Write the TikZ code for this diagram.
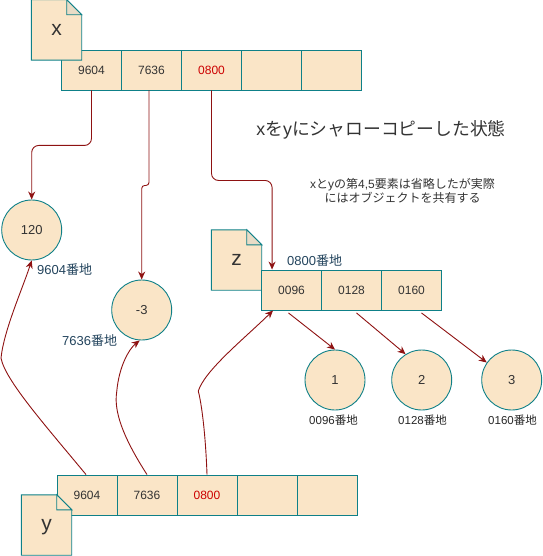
\documentclass[tikz,border=0pt]{standalone}
\usepackage{fontspec}
\setmainfont{Liberation Sans}
\newfontfamily\cjk{Noto Sans CJK JP}
\usetikzlibrary{arrows.meta}
\definecolor{teal0}{HTML}{0E8088}
\definecolor{cellfill}{HTML}{FAE5C7}
\definecolor{foldfill}{HTML}{E8DCC6}
\definecolor{conncol}{HTML}{8E1212}
\definecolor{txt}{HTML}{333333}
\definecolor{addr}{HTML}{23445D}
\definecolor{redtxt}{HTML}{CC0000}
\tikzset{
  cell/.style={draw=teal0, fill=cellfill, line width=0.9pt, minimum width=60pt, minimum height=40pt, inner sep=0pt, text=txt, font=\fontsize{12}{14}\selectfont},
  circ/.style={circle, draw=teal0, fill=cellfill, line width=0.9pt, minimum size=60pt, inner sep=0pt, text=txt, font=\fontsize{13}{15}\selectfont},
  filebox/.style={minimum width=50pt, minimum height=60pt, inner sep=0pt, text=txt, font=\fontsize{21}{24}\selectfont},
  fileline/.style={draw=teal0, fill=cellfill, line width=0.9pt},
  addrlab/.style={text=addr, inner sep=0pt, font=\fontsize{13}{15}\selectfont},
  smalllab/.style={text=black!85, inner sep=0pt, font=\fontsize{11.5}{13}\selectfont},
  conn/.style={draw=conncol, line width=0.9pt, -{Stealth[length=8pt,width=7pt]}},
}
\newcommand{\filedraw}[2]{%
  \path[fileline] (#1.north west) -- ([xshift=-15pt]#1.north east) -- ([yshift=-15pt]#1.north east) -- (#1.south east) -- (#1.south west) -- cycle;
  \path[draw=teal0, fill=#2, line width=0.9pt] ([xshift=-15pt]#1.north east) -- ([xshift=-15pt,yshift=-15pt]#1.north east) -- ([yshift=-15pt]#1.north east) -- cycle;
}
\begin{document}
\begin{tikzpicture}[x=1pt,y=-1pt]
\useasboundingbox (0,0) rectangle (542,556);

% x array
\node[cell] (x1) at (91.5,70) {9604};
\node[cell] (x2) at (151.5,70) {7636};
\node[cell, text=redtxt] (x3) at (211.5,70) {0800};
\node[cell] (x4) at (271.5,70) {};
\node[cell] (x5) at (331.5,70) {};
\node[filebox] (fx) at (56.5,30) {};
\filedraw{fx}{foldfill}
\node[filebox] at (fx) {x};

% z
\node[filebox] (fz) at (236.5,260) {};
\filedraw{fz}{foldfill}
\node[filebox] at (fz) {z};
\node[cell] (z1) at (291.5,290) {0096};
\node[cell] (z2) at (351.5,290) {0128};
\node[cell] (z3) at (411.5,290) {0160};

% y array
\node[cell] (y1) at (87,495) {9604};
\node[cell] (y2) at (147,495) {7636};
\node[cell, text=redtxt] (y3) at (207,495) {0800};
\node[cell] (y4) at (267,495) {};
\node[cell] (y5) at (327,495) {};
\node[filebox] (fy) at (46.5,525) {};
\filedraw{fy}{cellfill}
\node[filebox, yshift=-2pt] at (fy) {y};

% circles
\node[circ] (c120) at (31.7,230) {120};
\node[circ] (cm3) at (141.7,310) {-3};
\node[circ] (c1) at (335,380) {1};
\node[circ] (c2) at (421.7,380) {2};
\node[circ] (c3) at (511.7,380) {3};

% labels
\node[addrlab, anchor=west] (l9604) at (37,270) {9604{\cjk 番地}};
\node[addrlab, anchor=west] (l7636) at (62,341) {7636{\cjk 番地}};
\node[addrlab, anchor=west] (l0800) at (287,261) {0800{\cjk 番地}};
\node[smalllab] (l0096) at (333.5,420) {0096{\cjk 番地}};
\node[smalllab] (l0128) at (422.5,420) {0128{\cjk 番地}};
\node[smalllab] (l0160) at (512.5,420) {0160{\cjk 番地}};

\node[text=txt, inner sep=0pt, font=\fontsize{17.8}{20}\selectfont] (title) at (381,130) {x{\cjk を}y{\cjk にシャローコピーした状態}};
\node[text=txt, inner sep=0pt, align=center, font=\fontsize{12}{14}\selectfont] (note) at (402.5,191) {x{\cjk と}y{\cjk の第}4,5{\cjk 要素は省略したが実際}\\{\cjk にはオブジェクトを共有する}};

% connectors from x
\draw[conn, rounded corners=7pt] (x1.south) -- ++(0,55) -| (c120.north);
\draw[conn, rounded corners=3pt] ([xshift=-2.5pt]x2.south) -- ++(0,95) -| (cm3.north);
\draw[conn, rounded corners=7pt] (x3.south) -- ++(0,90) -| ([xshift=11pt]z1.north west);

% connectors from y
\draw[conn] ([xshift=-1pt]y1.north) .. controls (45,425) and (5,380) .. (1,358) .. controls (4,330) and (22,290) .. (c120.south);
\draw[conn] (y2.north) .. controls (128,445) and (113,415) .. (116.7,392) .. controls (119,365) and (130,348) .. ([xshift=-2pt]cm3.south);
\draw[conn] (y3.north) .. controls (206,445) and (203,410) .. (198.3,391) .. controls (205,370) and (245,338) .. ([xshift=12pt]z1.south west);

% connectors from z
\draw[conn] ([xshift=-3pt,yshift=-2.5pt]z1.south) -- (c1.north);
\draw[conn] ([xshift=5pt,yshift=-2.5pt]z2.south) -- (c2.122);
\draw[conn] ([xshift=10pt,yshift=-2.5pt]z3.south) -- (c3.145);
\end{tikzpicture}
\end{document}
